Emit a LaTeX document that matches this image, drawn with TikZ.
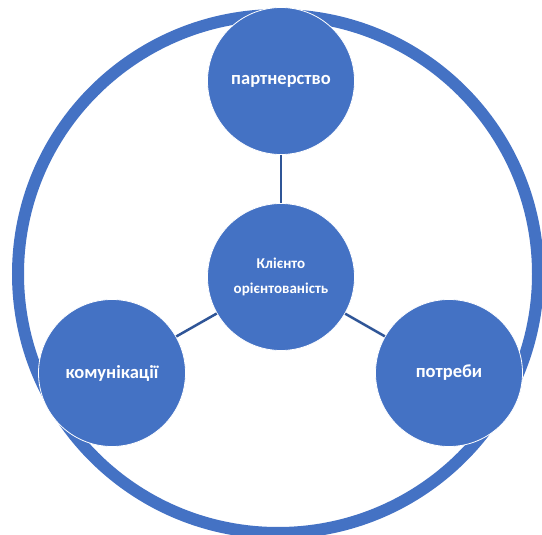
\documentclass[tikz,border=0pt]{standalone}
\usepackage{fontspec}
\setmainfont{Carlito}
\definecolor{officeblue}{HTML}{4472C4}
\definecolor{linkblue}{HTML}{2F5597}
\tikzset{
  petal/.style={circle, fill=officeblue, draw=white, line width=0.8pt,
    minimum size=147pt, inner sep=0pt, text=white,
    font=\fontsize{18.5}{22}\selectfont\bfseries},
  hub/.style={petal, align=center, font=\fontsize{15}{25}\selectfont\bfseries},
  link/.style={draw=linkblue, line width=2.5pt},
  rim/.style={draw=officeblue, line width=12pt}
}
\begin{document}
\begin{tikzpicture}[x=1pt,y=-1pt]
  \useasboundingbox (0,0) rectangle (542,535);
  \clip (0,0) rectangle (542,535);
  % зовнішнє коло
  \draw[rim] (278,274) ellipse [x radius=260, y radius=259];

  % вузли
  \node[petal] (partner) at (281,81) {партнерство};
  \node[hub] (client) at (281,277) {Клієнто\\орієнтованість};
  \node[petal] (comm) at (112,373) {комунікації};
  \node[petal] (needs) at (449,373) {потреби};

  % з'єднання
  \draw[link] (partner) -- (client);
  \draw[link] (client) -- (comm);
  \draw[link] (client) -- (needs);
\end{tikzpicture}
\end{document}
